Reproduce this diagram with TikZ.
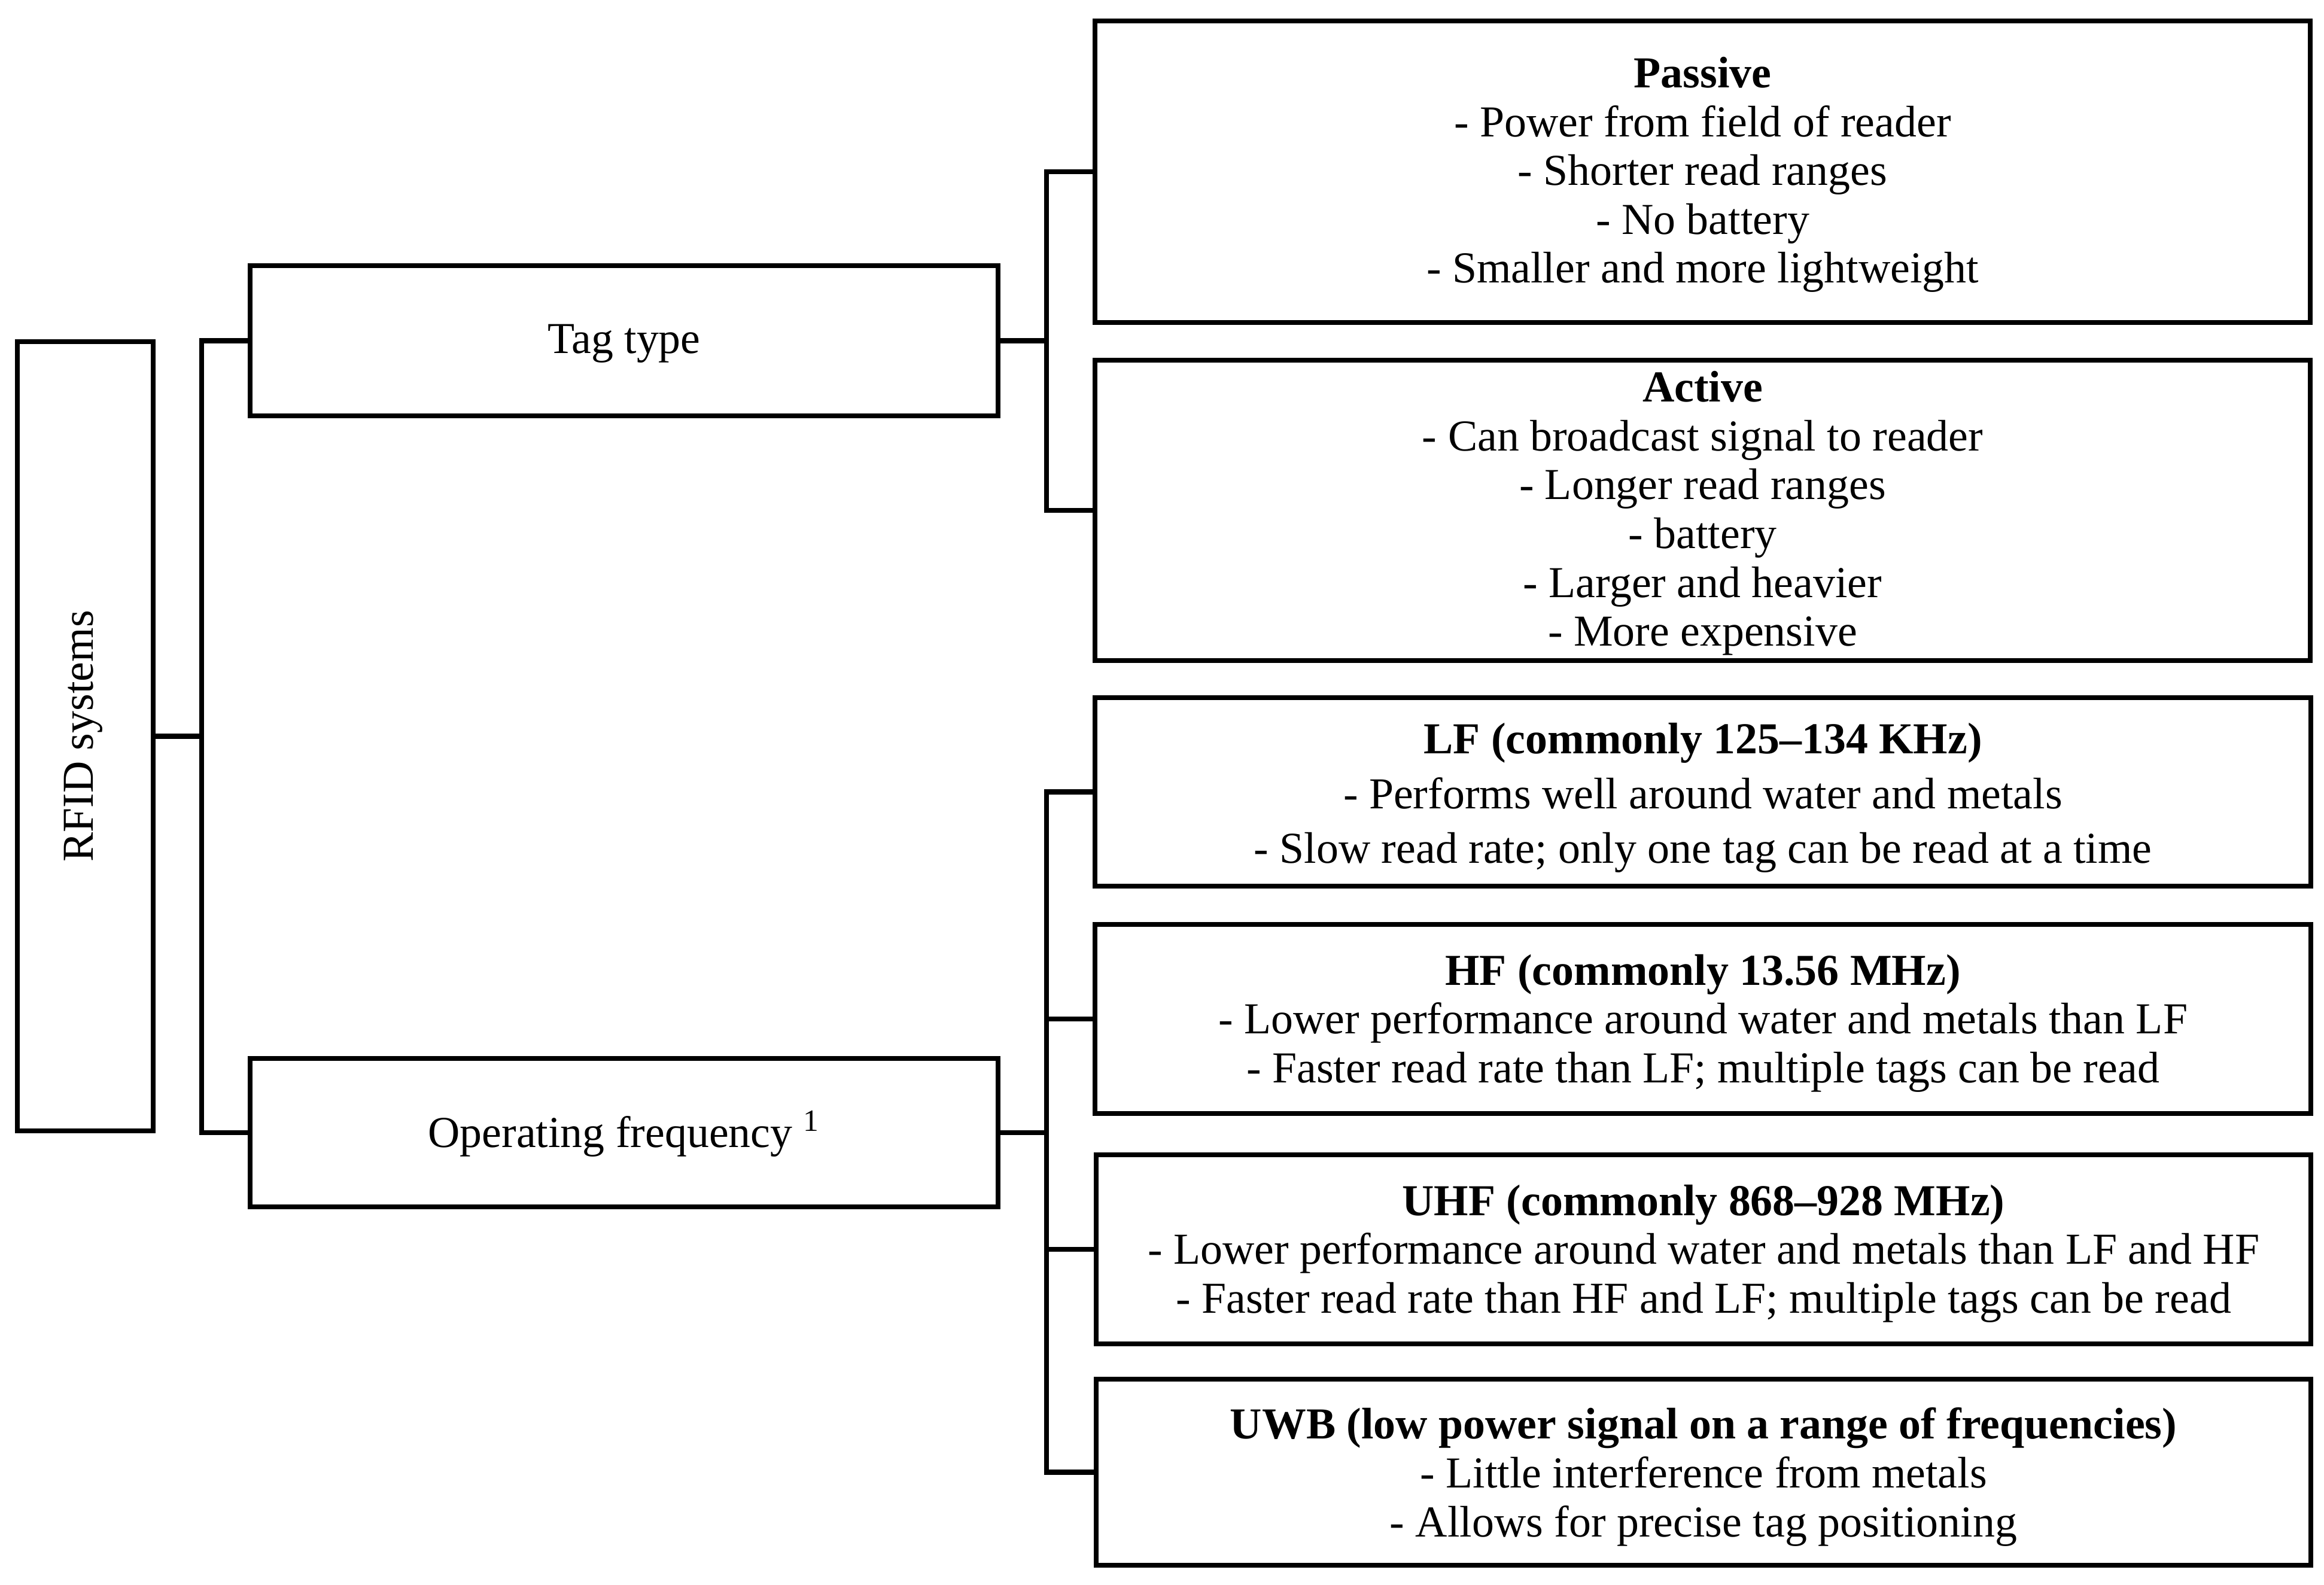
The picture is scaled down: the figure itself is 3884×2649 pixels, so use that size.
\documentclass[tikz,border=0pt]{standalone}
\usepackage{fontspec}
\setmainfont{Liberation Serif}
\begin{document}
\begin{tikzpicture}[x=0.01cm,y=-0.01cm,
  line width=2.4pt, line join=miter,
  box/.style={draw=black, line width=2.4pt, inner sep=0pt, outer sep=0pt},
  txt/.style={inner sep=0pt, align=center, font=\fontsize{21}{23.2}\selectfont},
  conn/.style={draw=black, line width=2.4pt}]
\useasboundingbox (0,0) rectangle (3884,2649);
% level 0
\node[box, minimum width=227*0.01cm, minimum height=1319*0.01cm] (rfid) at (142.5,1230.5) {};
\node[txt, rotate=90] (rfidT) at ([xshift=-0.03cm]rfid.center) {RFID systems};
% level 1
\node[box, minimum width=1250*0.01cm, minimum height=251*0.01cm] (tag) at (1043,569.5) {};
\node[txt] (tagT) at ([yshift=-0.05cm]tag.center) {Tag type};
\node[box, minimum width=1250*0.01cm, minimum height=248*0.01cm] (op) at (1043,1893) {};
\node[txt] (opT) at ([yshift=-0.02cm]op.center) {Operating frequency \textsuperscript{1}};
% level 2
\node[box, minimum width=2031*0.01cm, minimum height=504*0.01cm] (passive) at (2845.5,287) {};
\node[txt] (passiveT) at ([yshift=-0.05cm]passive.center)
  {\textbf{Passive}\\- Power from field of reader\\- Shorter read ranges\\- No battery\\- Smaller and more lightweight};
\node[box, minimum width=2031*0.01cm, minimum height=502*0.01cm] (active) at (2845.5,853) {};
\node[txt] (activeT) at ([yshift=-0.05cm]active.center)
  {\textbf{Active}\\- Can broadcast signal to reader\\- Longer read ranges\\- battery\\- Larger and heavier\\- More expensive};
\node[box, minimum width=2032*0.01cm, minimum height=315*0.01cm] (lf) at (2846,1323.5) {};
\node[txt, font=\fontsize{21}{26}\selectfont] (lfT) at ([yshift=-0.10cm]lf.center)
  {\textbf{LF (commonly 125–134 KHz)}\\- Performs well around water and metals\\- Slow read rate; only one tag can be read at a time};
\node[box, minimum width=2032*0.01cm, minimum height=316*0.01cm] (hf) at (2846,1703) {};
\node[txt] (hfT) at ([yshift=-0.07cm]hf.center)
  {\textbf{HF (commonly 13.56 MHz)}\\- Lower performance around water and metals than LF\\- Faster read rate than LF; multiple tags can be read};
\node[box, minimum width=2030*0.01cm, minimum height=316*0.01cm] (uhf) at (2847,2088) {};
\node[txt] (uhfT) at ([yshift=-0.07cm]uhf.center)
  {\textbf{UHF (commonly 868–928 MHz)}\\- Lower performance around water and metals than LF and HF\\- Faster read rate than HF and LF; multiple tags can be read};
\node[box, minimum width=2030*0.01cm, minimum height=311*0.01cm] (uwb) at (2847,2460.5) {};
\node[txt] (uwbT) at ([yshift=-0.08cm]uwb.center)
  {\textbf{UWB (low power signal on a range of frequencies)}\\- Little interference from metals\\- Allows for precise tag positioning};
% bus coordinates
\coordinate (b1) at (337,0);
\coordinate (b2) at (1749,0);
% connectors level 0 -> 1
\draw[conn] (rfid.east) -- (rfid.east -| b1);
\draw[conn] (tag.west) -- (tag.west -| b1) -- (op.west -| b1) -- (op.west);
% tag type -> passive/active
\draw[conn] (tag.east) -- (tag.east -| b2);
\draw[conn] (passive.west) -- (passive.west -| b2) -- (active.west -| b2) -- (active.west);
% operating frequency -> bands
\draw[conn] (op.east) -- (op.east -| b2);
\draw[conn] (lf.west) -- (lf.west -| b2) -- (uwb.west -| b2) -- (uwb.west);
\draw[conn] (hf.west) -- (hf.west -| b2);
\draw[conn] (uhf.west) -- (uhf.west -| b2);
\end{tikzpicture}
\end{document}
